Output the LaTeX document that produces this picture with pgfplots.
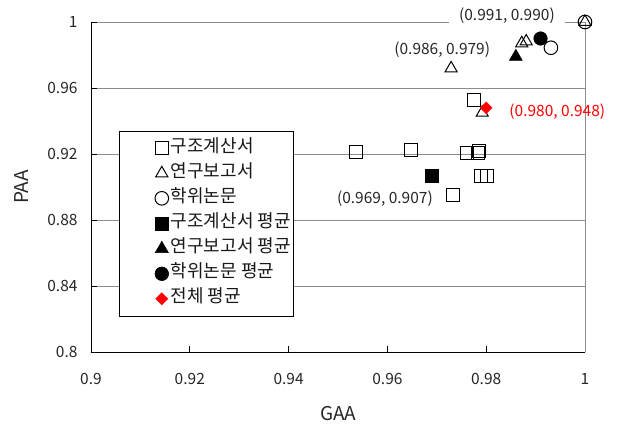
\documentclass[border=0pt]{standalone}
\usepackage{fontspec}
\setmainfont{Noto Sans CJK KR}
\usepackage{pgfplots}
\pgfplotsset{compat=1.18}
\begin{document}
\begin{tikzpicture}
\pgfplotsset{
  myleg/.style={legend image code/.code={\path[draw=none,fill=none] (-40pt,-0.1pt) rectangle (9pt,0.1pt); \draw[##1] plot coordinates {(0pt,0pt)};}},
}
\begin{axis}[
  scale only axis, width=494pt, height=330pt,
  xmin=0.9, xmax=1, ymin=0.8, ymax=1,
  clip=false,
  axis x line*=bottom, axis y line*=left,
  axis line style={black, line width=0.8pt, -},
  xtick={0.9,0.92,0.94,0.96,0.98,1},
  ytick={0.8,0.84,0.88,0.92,0.96,1},
  xticklabels={0.9,0.92,0.94,0.96,0.98,1},
  yticklabels={0.8,0.84,0.88,0.92,0.96,1},
  /pgf/number format/assume math mode=true,
  tick align=inside, major tick length=6pt,
  tick style={black, line width=0.8pt},
  ymajorgrids, grid style={gray!90, line width=0.8pt},
  ticklabel style={font=\fontsize{15.5}{18}\selectfont, text=black!85},
  xticklabel style={yshift=-18pt},
  yticklabel style={xshift=-10pt},
  xlabel={GAA}, ylabel={PAA},
  label style={font=\fontsize{19}{22}\selectfont, text=black!85},
  xlabel style={at={(rel axis cs:0.5,-0.1879)}, anchor=center},
  ylabel style={at={(rel axis cs:-0.1397,0.5)}, anchor=center, rotate=0},
  legend style={at={(rel axis cs:0.0567,0.6697)}, anchor=north west,
    draw=black, line width=0.6pt, inner xsep=2.5pt, inner ysep=10pt,
    font=\fontsize{18}{21}\selectfont, text=black!90,
    row sep=11pt,
    nodes={inner sep=0pt, text height=11pt, text depth=3pt}},
  legend cell align=left,
]
\addplot[only marks, mark=square, mark size=6.5pt, mark options={line width=1pt, black, fill=none}, myleg]
  coordinates {(0.9536,0.9214) (0.9647,0.9224) (0.9761,0.9208) (0.9786,0.9220) (0.9783,0.9204)
               (0.9789,0.9068) (0.9801,0.9068) (0.9732,0.8952) (0.9776,0.9527)};
\addlegendentry{구조계산서}
\addplot[only marks, mark=triangle, mark size=7pt, mark options={line width=1pt, black, fill=none}, myleg]
  coordinates {(0.9729,0.9719) (0.9792,0.9450) (0.9872,0.9871) (0.9881,0.9882) (1,1)};
\addlegendentry{연구보고서}
\addplot[only marks, mark=o, mark size=6.8pt, mark options={line width=1pt, black, fill=none}, myleg]
  coordinates {(0.9931,0.9844) (1,1)};
\addlegendentry{학위논문}
\addplot[only marks, mark=square*, mark size=6.5pt, mark options={black}, myleg]
  coordinates {(0.969,0.907)};
\addlegendentry{구조계산서 평균}
\addplot[only marks, mark=triangle*, mark size=7.5pt, mark options={black}, myleg]
  coordinates {(0.986,0.979)};
\addlegendentry{연구보고서 평균}
\addplot[only marks, mark=*, mark size=6.8pt, mark options={black}, myleg]
  coordinates {(0.991,0.990)};
\addlegendentry{학위논문 평균}
\addplot[only marks, mark=square*, mark size=4.2pt, mark options={red, rotate=45}, myleg]
  coordinates {(0.980,0.948)};
\addlegendentry{전체 평균}
\draw[gray!90, line width=0.8pt] (rel axis cs:1,0) -- (rel axis cs:1,1);
\node[font=\fontsize{15.5}{18}\selectfont, text=black!85, fill=white, inner xsep=10pt, inner ysep=1pt] at (axis cs:0.9842,1.0036) {(0.991, 0.990)};
\node[font=\fontsize{15.5}{18}\selectfont, text=black!85] at (axis cs:0.9711,0.9830) {(0.986, 0.979)};
\node[font=\fontsize{15.5}{18}\selectfont, text=red] at (axis cs:0.9944,0.9456) {(0.980, 0.948)};
\node[font=\fontsize{15.5}{18}\selectfont, text=black!85] at (axis cs:0.9595,0.8932) {(0.969, 0.907)};
\coordinate (bbll) at (rel axis cs:-0.18421,-0.23030);
\coordinate (bbur) at (rel axis cs:1.06478,1.06667);
\end{axis}
\pgfresetboundingbox
\path[use as bounding box] (bbll) rectangle (bbur);
\end{tikzpicture}
\end{document}
